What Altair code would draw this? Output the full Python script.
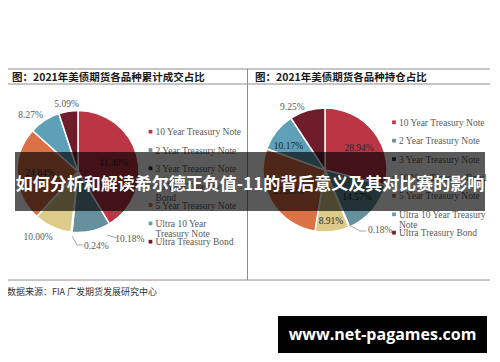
import math
import altair as alt
import pandas as pd

# ---------------- data ----------------
series = ["10 Year Treasury Note", "2 Year Treasury Note", "3 Year Treasury Note",
          "30 Year Treasury Bond", "5 Year Treasury Note", "Ultra 10 Year Treasury Note",
          "Ultra Treasury Bond"]
colors = ["#BC3545", "#65909C", "#1E3B4A", "#DDCB8A", "#DB7145", "#5EA0B8", "#6F1D2B"]
volume_share = [41.40, 10.18, 0.24, 10.00, 24.84, 8.27, 5.09]
volume_labels = ["41.40%", "10.18%", "0.24%", "10.00%", "24.84%", "8.27%", "5.09%"]
oi_share = [28.94, 14.57, 0.18, 8.91, 27.98, 10.17, 9.25]
oi_labels = ["28.94%", "14.57%", "0.18%", "8.91%", "27.98%", "10.17%", "9.25%"]
legend_left = ["10 Year Treasury Note", "2 Year Treasury Note", "3 Year Treasury Note",
               "30 Year Treasury\nBond", "5 Year Treasury Note", "Ultra 10 Year\nTreasury Note",
               "Ultra Treasury Bond"]
legend_right = ["10 Year Treasury Note", "2 Year Treasury Note", "3 Year Treasury Note",
                "30 Year Treasury Bond", "5 Year Treasury Note", "Ultra 10 Year Treasury\nNote",
                "Ultra Treasury Bond"]
title_left = "图：2021年美债期货各品种累计成交占比"
title_right = "图：2021年美债期货各品种持仓占比"
source_text = "数据来源：FIA 广发期货发展研究中心"
banner_text = "如何分析和解读希尔德正负值-11的背后意义及其对比赛的影响"
watermark_text = "www.net-pagames.com"

# ---------------- styling ----------------
W, H = 484, 346
SERIF = "Liberation Serif"
CJK = "Noto Sans CJK SC"
LINE = "#8c8c8c"


def P(v):
    return v - 8  # page pixel -> chart pixel


def make_df(vals, labels, legend):
    return pd.DataFrame({"idx": list(range(len(series))), "series": series,
                         "value": vals, "label": labels, "legend": legend})


df_left = make_df(volume_share, volume_labels, legend_left)
df_right = make_df(oi_share, oi_labels, legend_right)

color_scale = alt.Scale(domain=series, range=colors)
theta_scale = alt.Scale(domain=[0, 1], range=[0, 2 * math.pi])
one = pd.DataFrame({"k": [0]})


def pie_layers(df, cx, cy, r, specs):
    base = (alt.Chart(df)
            .transform_window(cum="sum(value)", sort=[alt.SortField("idx")], frame=[None, 0])
            .transform_joinaggregate(total="sum(value)")
            .transform_calculate(t0="(datum.cum - datum.value) / datum.total",
                                 t1="datum.cum / datum.total",
                                 tm="(datum.cum - datum.value / 2) / datum.total"))
    arcs = base.mark_arc(outerRadius=r, stroke="white", strokeWidth=1.5).encode(
        theta=alt.Theta("t0:Q", scale=theta_scale, stack=None),
        theta2="t1:Q",
        color=alt.Color("series:N", scale=color_scale, legend=None),
        x=alt.value(cx), y=alt.value(cy))
    layers = [arcs]
    for name, (rad, dx, dy, col) in specs.items():
        layers.append(
            base.transform_filter(alt.datum.series == name)
            .mark_text(font=SERIF, fontSize=9.5, color=col, dx=dx, dy=dy, baseline="middle")
            .encode(theta=alt.Theta("tm:Q", scale=theta_scale, stack=None),
                    radius=alt.value(rad), text="label:N",
                    x=alt.value(cx), y=alt.value(cy)))
    return layers


def legend_layers(df, mx, y0, y1):
    ys = alt.Y("series:N", scale=alt.Scale(type="point", domain=series, range=[y0, y1], padding=0),
               axis=None)
    sq = alt.Chart(df).mark_square(size=14, opacity=1).encode(
        x=alt.value(mx), y=ys, color=alt.Color("series:N", scale=color_scale, legend=None))
    tx = alt.Chart(df).mark_text(align="left", baseline="alphabetic", dy=3.5, font=SERIF,
                                 fontSize=9.5, color="#595959", lineBreak="\n",
                                 lineHeight=10.5).encode(
        x=alt.value(mx + 5), y=ys, text="legend:N")
    return [sq, tx]


def hline(x1, x2, y):
    return alt.Chart(one).mark_rule(color=LINE, strokeWidth=1).encode(
        x=alt.value(P(x1)), x2=alt.value(P(x2)), y=alt.value(P(y)))


def vline(x, y1, y2):
    return alt.Chart(one).mark_rule(color=LINE, strokeWidth=1).encode(
        x=alt.value(P(x)), y=alt.value(P(y1)), y2=alt.value(P(y2)))


def seg(x1, y1, x2, y2):
    return alt.Chart(one).mark_rule(color="#a6a6a6", strokeWidth=1).encode(
        x=alt.value(P(x1)), y=alt.value(P(y1)), x2=alt.value(P(x2)), y2=alt.value(P(y2)))


def label(txt, x, y, **kw):
    return alt.Chart(one).mark_text(**kw).encode(
        x=alt.value(P(x)), y=alt.value(P(y)), text=alt.value(txt))


IN = "#262626"
OUT = "#595959"

left_specs = {
    series[0]: (37, 0, 1, IN),
    series[1]: (72, 36, -3, OUT),
    series[2]: (72, 26, 3, OUT),
    series[3]: (72, -10, 0, OUT),
    series[4]: (38, 0, 0, IN),
    series[5]: (72, -8, 4, OUT),
    series[6]: (72, 0, 4, OUT),
}
right_specs = {
    series[0]: (42, 1, 4, IN),
    series[1]: (42, 0, 0, IN),
    series[2]: (72, 27, -6, OUT),
    series[3]: (51, 0, 0, IN),
    series[4]: (42, 0, 0, IN),
    series[5]: (44, -2, 3, IN),
    series[6]: (72, -12, 6, OUT),
}

layers = [
    hline(5, 490, 69),
    hline(5, 490, 84),
    hline(5, 490, 280),
    vline(247.5, 69, 280),
    label(title_left, 12, 78, font=CJK, fontSize=10.5, fontWeight="bold", color="#1a1a1a",
          align="left", baseline="middle"),
    label(title_right, 255, 78, font=CJK, fontSize=10.5, fontWeight="bold", color="#1a1a1a",
          align="left", baseline="middle"),
    label(source_text, 7, 292, font=CJK, fontSize=9, color="#333333", align="left",
          baseline="middle"),
]
layers += pie_layers(df_left, P(78), P(171.5), 61, left_specs)
layers += pie_layers(df_right, P(325), P(170), 62, right_specs)
layers += [
    seg(72, 236, 77, 245), seg(77, 245, 83, 245),
    seg(107, 235, 117, 238),
    seg(349, 225, 360, 231), seg(360, 231, 366, 231),
]
layers += legend_layers(df_left, P(150.5), P(131.7), P(241.7))
layers += legend_layers(df_right, P(394), P(122.3), P(232.7))
layers += [
    alt.Chart(one).mark_rect(color="#000000", opacity=0.65).encode(
        x=alt.value(P(15)), x2=alt.value(P(485)), y=alt.value(P(152)), y2=alt.value(P(211))),
    label(banner_text, 250, 185, font=CJK, fontSize=17, fontWeight="bold", color="white",
          align="center", baseline="middle"),
    alt.Chart(one).mark_rect(color="#000000").encode(
        x=alt.value(P(278)), x2=alt.value(P(487)), y=alt.value(P(316)), y2=alt.value(P(353))),
    label(watermark_text, 382.5, 335, font="Open Sans", fontSize=16, fontWeight="bold",
          color="white", align="center", baseline="middle"),
]

chart = (alt.layer(*layers)
         .resolve_scale(y="independent")
         .properties(width=W, height=H, padding=0,
                     autosize=alt.AutoSizeParams(type="none"), background="white")
         .configure_view(stroke=None))

chart.save("out.html", embed_options={"renderer": "svg", "actions": False})
